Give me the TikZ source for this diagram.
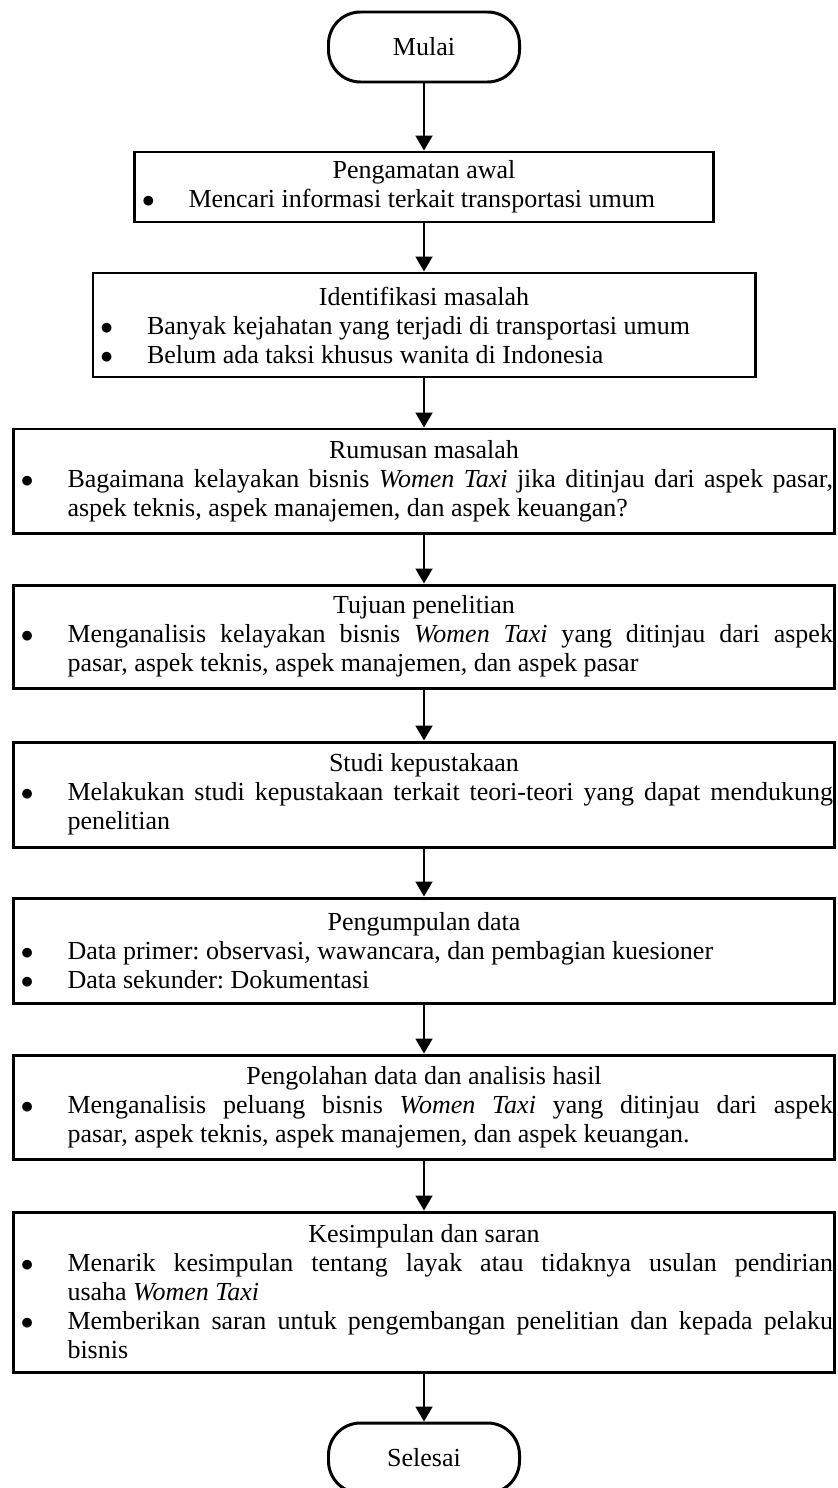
\documentclass[tikz,border=0pt]{standalone}
\usepackage{fontspec}
\setmainfont{Liberation Serif}
\usetikzlibrary{arrows.meta}
\frenchspacing

\newcommand{\boxtitle}[1]{\noindent{\centering #1\par}}
\newcommand{\bitem}[1]{\par\hangindent=1.05cm\hangafter=1\noindent\makebox[1.05cm][l]{\hspace{0.12cm}$\bullet$}#1\par}

\begin{document}
\begin{tikzpicture}[
        box/.style={rectangle, draw, line width=1.7pt, inner xsep=0.03cm, inner ysep=0pt,
                    align=justify, font=\fontsize{14.8}{16.5}\selectfont},
        terminal/.style={rectangle, draw, line width=1.7pt, rounded corners=0.64cm,
                    minimum width=3.82cm, minimum height=1.40cm, font=\fontsize{14.8}{16.5}\selectfont},
        arrow/.style={-{Triangle[width=0.34cm, length=0.30cm]}, line width=1.1pt}
    ]
    \useasboundingbox (0,0) rectangle (16.74,-29.76);

    % Start
    \node[terminal] (mulai) at (8.48, -0.94) {Mulai};

    % Steps
    \node[box, text width=11.52cm, minimum height=1.40cm] (pengamatan) at (8.48, -3.74) {%
        \boxtitle{Pengamatan awal}
        \bitem{Mencari informasi terkait transportasi umum}};

    \node[box, text width=13.18cm, minimum height=2.08cm] (identifikasi) at (8.48, -6.50) {%
        \boxtitle{Identifikasi masalah}
        \bitem{Banyak kejahatan yang terjadi di transportasi umum}
        \bitem{Belum ada taksi khusus wanita di Indonesia}};

    \node[box, text width=16.36cm, minimum height=2.08cm] (rumusan) at (8.48, -9.62) {%
        \boxtitle{Rumusan masalah}
        \bitem{Bagaimana kelayakan bisnis \textit{Women Taxi} jika ditinjau dari aspek pasar,\linebreak aspek teknis, aspek manajemen, dan aspek keuangan?}};

    \node[box, text width=16.36cm, minimum height=2.06cm] (tujuan) at (8.48, -12.73) {%
        \boxtitle{Tujuan penelitian}
        \bitem{Menganalisis kelayakan bisnis \textit{Women Taxi} yang ditinjau dari aspek\linebreak pasar, aspek teknis, aspek manajemen, dan aspek pasar}};

    \node[box, text width=16.36cm, minimum height=2.10cm] (studi) at (8.48, -15.89) {%
        \boxtitle{Studi kepustakaan}
        \bitem{Melakukan studi kepustakaan terkait teori-teori yang dapat mendukung\linebreak penelitian}};

    \node[box, text width=16.36cm, minimum height=2.10cm] (pengumpulan) at (8.48, -19.01) {%
        \boxtitle{Pengumpulan data}
        \bitem{Data primer: observasi, wawancara, dan pembagian kuesioner}
        \bitem{Data sekunder: Dokumentasi}};

    \node[box, text width=16.36cm, minimum height=2.08cm] (pengolahan) at (8.48, -22.14) {%
        \boxtitle{Pengolahan data dan analisis hasil}
        \bitem{Menganalisis peluang bisnis \textit{Women Taxi} yang ditinjau dari aspek\linebreak pasar, aspek teknis, aspek manajemen, dan aspek keuangan.}};

    \node[box, text width=16.36cm, minimum height=3.20cm] (kesimpulan) at (8.48, -25.84) {%
        \boxtitle{Kesimpulan dan saran}
        \bitem{Menarik kesimpulan tentang layak atau tidaknya usulan pendirian\linebreak usaha \textit{Women Taxi}}
        \bitem{Memberikan saran untuk pengembangan penelitian dan kepada pelaku\linebreak bisnis}};

    % End
    \node[terminal] (selesai) at (8.48, -29.16) {Selesai};

    \draw[arrow] (mulai) -- (pengamatan);
    \draw[arrow] (pengamatan) -- (identifikasi);
    \draw[arrow] (identifikasi) -- (rumusan);
    \draw[arrow] (rumusan) -- (tujuan);
    \draw[arrow] (tujuan) -- (studi);
    \draw[arrow] (studi) -- (pengumpulan);
    \draw[arrow] (pengumpulan) -- (pengolahan);
    \draw[arrow] (pengolahan) -- (kesimpulan);
    \draw[arrow] (kesimpulan) -- (selesai);

\end{tikzpicture}
\end{document}
